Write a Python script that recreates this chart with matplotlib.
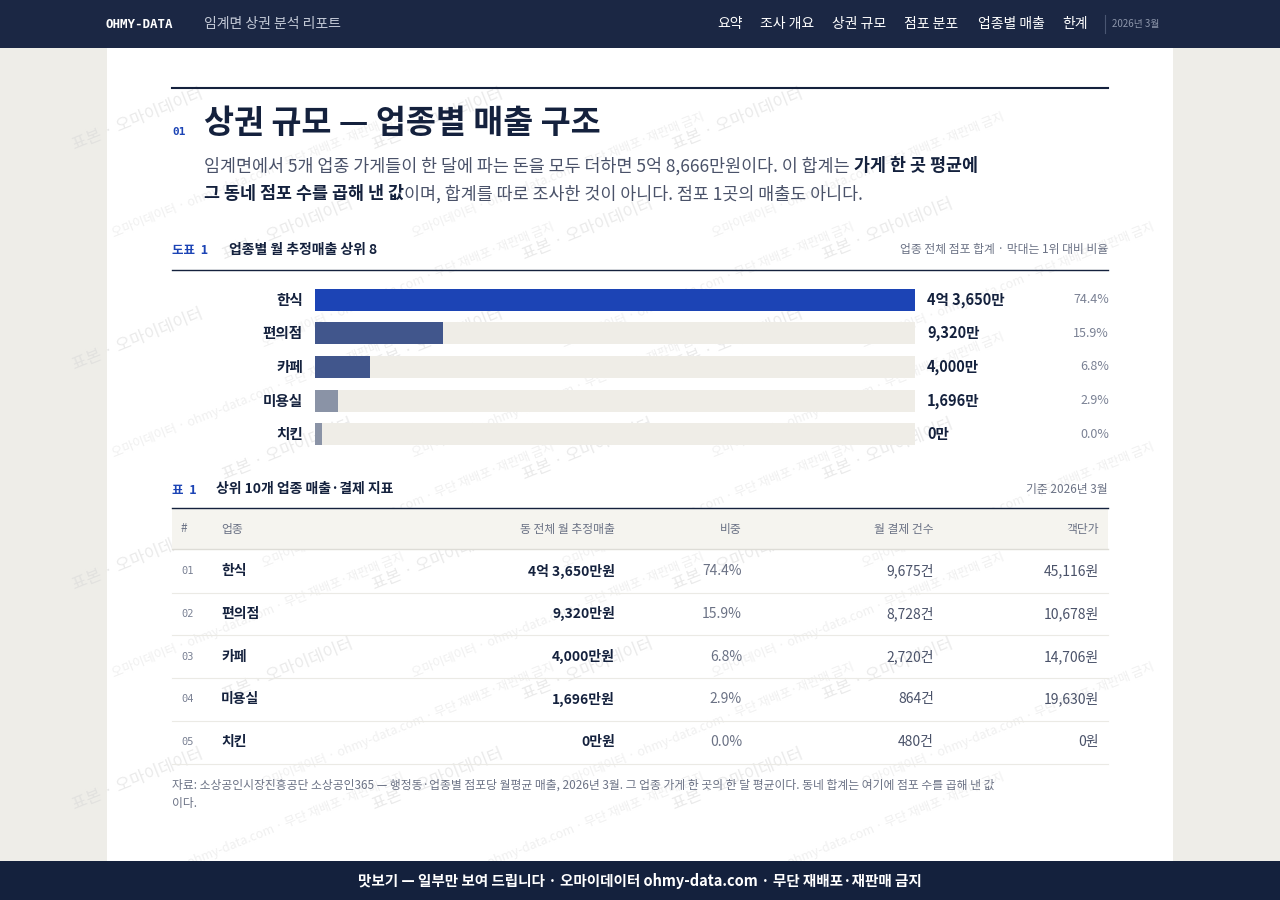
import matplotlib.pyplot as plt
import matplotlib.patches as mpatches

plt.rcParams['font.family'] = ['Noto Sans CJK KR', 'DejaVu Sans']

# data
categories = ['한식', '편의점', '카페', '미용실', '치킨']
sales_man = [43650, 9320, 4000, 1696, 0]          # 만원
bar_labels = ['4억 3,650만', '9,320만', '4,000만', '1,696만', '0만']
shares = ['74.4%', '15.9%', '6.8%', '2.9%', '0.0%']
sales_won = ['4억 3,650만원', '9,320만원', '4,000만원', '1,696만원', '0만원']
payments = ['9,675건', '8,728건', '2,720건', '864건', '480건']
unit_price = ['45,116원', '10,678원', '14,706원', '19,630원', '0원']
bar_colors = ['#1c44b5', '#41568c', '#41568c', '#8a93a6', '#8a93a6']

NAVY = '#14213d'
W, H = 1280, 900
fig = plt.figure(figsize=(12.8, 9), dpi=100)
fig.patch.set_facecolor('#eeede8')
ax = fig.add_axes([0, 0, 1, 1])
ax.set_xlim(0, W)
ax.set_ylim(H, 0)
ax.axis('off')
renderer = fig.canvas.get_renderer()

def rect(x, y, w, h, c, z=0):
    ax.add_patch(mpatches.Rectangle((x, y), w, h, color=c, zorder=z, lw=0))

def hline(x0, x1, y, c, lw):
    ax.plot([x0, x1], [y, y], color=c, lw=lw, zorder=2)

def runs(x, y, parts, size):
    # draw text pieces one after another on the same line
    for txt, bold in parts:
        t = ax.text(x, y, txt, fontsize=size, va='center', color=NAVY if bold else '#4a5269',
                    weight='bold' if bold else 'normal')
        x += t.get_window_extent(renderer).width

# page
rect(107, 48, 1066, 813, 'white')
rect(0, 0, W, 48, '#1b2744', 3)
rect(0, 861, W, 39, NAVY, 3)

# watermarks
for r, yy in enumerate(range(120, 860, 110)):
    for xx in range(70 + (r % 2) * 150, 930, 300):
        ax.text(xx, yy, '표본 · 오마이데이터', rotation=22, fontsize=12,
                color='#d6d6d6', alpha=0.5, zorder=1, ha='left', va='center')
        ax.text(xx + 40, yy + 55, '오마이데이터 · ohmy-data.com · 무단 재배포·재판매 금지',
                rotation=22, fontsize=9, color='#dddddd', alpha=0.45, zorder=1, ha='left', va='center')

# top nav
ax.text(106, 24, 'OHMY-DATA', color='white', fontsize=9, weight='bold', family='DejaVu Sans Mono', va='center', zorder=4)
ax.text(204, 24, '임계면 상권 분석 리포트', color='#c5cbd8', fontsize=10, va='center', zorder=4)
nav = [('요약', 717), ('조사 개요', 760), ('상권 규모', 832), ('점포 분포', 904), ('업종별 매출', 978), ('한계', 1062)]
for t, x in nav:
    ax.text(x, 24, t, color='white', fontsize=10, va='center', zorder=4)
ax.plot([1105, 1105], [15, 33], color='#4a5672', lw=0.8, zorder=4)
ax.text(1112, 24, '2026년 3월', color='#8d96ab', fontsize=7, va='center', zorder=4)

# section header
hline(172, 1108, 88, NAVY, 1.5)
ax.text(172, 132, '01', color='#1c44b5', fontsize=8, family='DejaVu Sans Mono', va='center', weight='bold')
ax.text(204, 124, '상권 규모 — 업종별 매출 구조', color=NAVY, fontsize=23.5, weight='bold', va='center')
runs(204, 166, [('임계면에서 5개 업종 가게들이 한 달에 파는 돈을 모두 더하면 5억 8,666만원이다. 이 합계는 ', False),
                ('가게 한 곳 평균에', True)], 12.5)
runs(204, 194, [('그 동네 점포 수를 곱해 낸 값', True),
                ('이며, 합계를 따로 조사한 것이 아니다. 점포 1곳의 매출도 아니다.', False)], 12.5)

# figure 1 header
ax.text(172, 251, '도표  1', color='#1c44b5', fontsize=9, va='center', weight='bold')
ax.text(229, 250, '업종별 월 추정매출 상위 8', color=NAVY, fontsize=10, va='center', weight='bold')
ax.text(1108, 250, '업종 전체 점포 합계 · 막대는 1위 대비 비율', color='#6b7285', fontsize=8.5, va='center', ha='right')
hline(172, 1108, 270, NAVY, 1)

# bars
bx = fig.add_axes([315 / W, 1 - 451 / H, 600 / W, (451 - 283) / H])
bx.axis('off')
n = len(categories)
mx = max(sales_man)
ypos = list(range(n))
bx.barh(ypos, [mx] * n, height=0.66, color='#efede7')
bx.barh(ypos, [max(v, mx * 0.012) for v in sales_man], height=0.66, color=bar_colors)
bx.set_xlim(0, mx)
bx.set_ylim(n - 0.5, -0.5)
for i in range(n):
    bx.text(-mx * 0.02, i, categories[i], ha='right', va='center', fontsize=10.5, color=NAVY, weight='bold')
    bx.text(mx * 1.02, i, bar_labels[i], ha='left', va='center', fontsize=10.5, color=NAVY, weight='bold')
    bx.text(mx * 1.3233, i, shares[i], ha='right', va='center', fontsize=9, color='#7a8194')

# table
ax.text(172, 490, '표  1', color='#1c44b5', fontsize=9, va='center', weight='bold')
ax.text(216, 489, '상위 10개 업종 매출·결제 지표', color=NAVY, fontsize=10, va='center', weight='bold')
ax.text(1108, 489, '기준 2026년 3월', color='#6b7285', fontsize=8.5, va='center', ha='right')
hline(172, 1108, 508, NAVY, 1)
rect(172, 509, 936, 40, '#f5f4ef', 1)
hline(172, 1108, 549, '#dddcd6', 1)
hy = 529
for t, x, ha in [('#', 181, 'left'), ('업종', 221, 'left'), ('동 전체 월 추정매출', 615, 'right'),
                 ('비중', 742, 'right'), ('월 결제 건수', 934, 'right'), ('객단가', 1099, 'right')]:
    ax.text(x, hy, t, ha=ha, va='center', fontsize=8.5, color='#6b7285', zorder=2)
for i in range(n):
    y = 571 + i * 42.8
    ax.text(181, y, '%02d' % (i + 1), fontsize=7.5, family='DejaVu Sans Mono', color='#7a8194', va='center', zorder=2)
    ax.text(221, y, categories[i], fontsize=10, weight='bold', color=NAVY, va='center', zorder=2)
    ax.text(615, y, sales_won[i], fontsize=10, weight='bold', color=NAVY, va='center', ha='right', zorder=2)
    ax.text(742, y, shares[i], fontsize=10, color='#6b7285', va='center', ha='right', zorder=2)
    ax.text(934, y, payments[i], fontsize=10, color='#4a5269', va='center', ha='right', zorder=2)
    ax.text(1099, y, unit_price[i], fontsize=10, color='#4a5269', va='center', ha='right', zorder=2)
    hline(172, 1108, y + 21.5, '#ebeae5', 0.8)

ax.text(172, 785, '자료: 소상공인시장진흥공단 소상공인365 — 행정동·업종별 점포당 월평균 매출, 2026년 3월. 그 업종 가게 한 곳의 한 달 평균이다. 동네 합계는 여기에 점포 수를 곱해 낸 값',
        fontsize=8.5, color='#6b7285', va='center')
ax.text(172, 803, '이다.', fontsize=8.5, color='#6b7285', va='center')

ax.text(640, 881, '맛보기 — 일부만 보여 드립니다 · 오마이데이터 ohmy-data.com · 무단 재배포·재판매 금지',
        color='white', fontsize=10.5, weight='bold', ha='center', va='center', zorder=4)

fig.savefig('out.png', dpi=100, facecolor=fig.get_facecolor())
